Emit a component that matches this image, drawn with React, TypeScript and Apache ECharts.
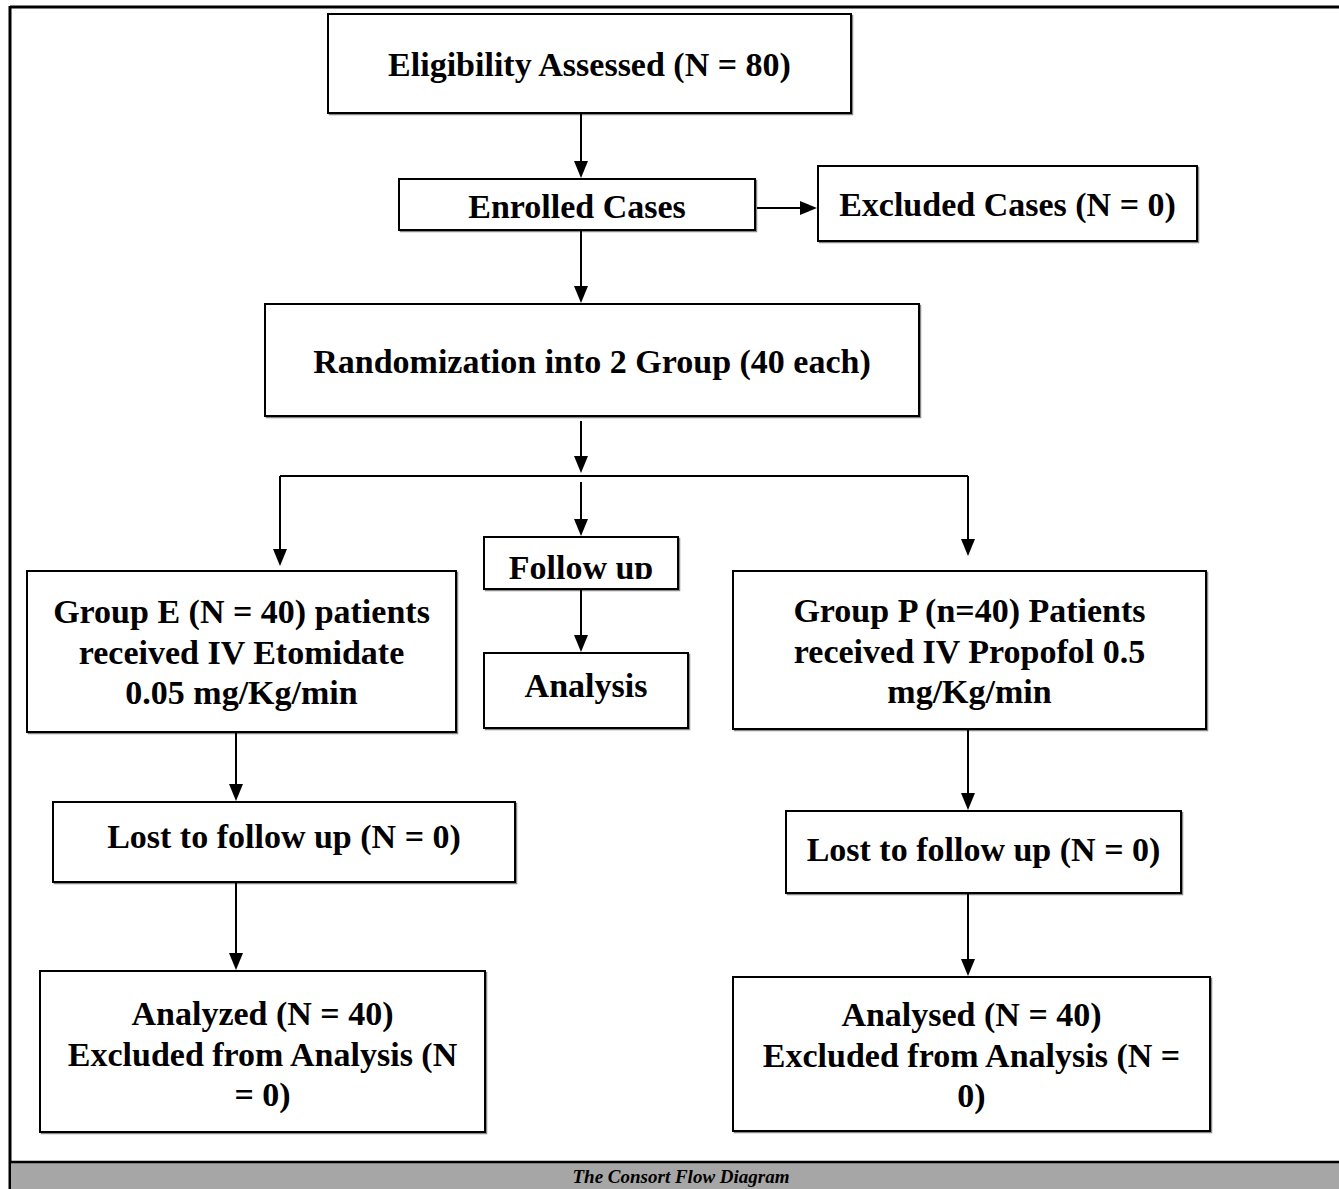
import React, { useEffect, useRef } from "react";
import * as echarts from "echarts";

// ---- content (data) ----
const boxIds = [
  "elig", "enrolled", "excluded", "random", "follow", "analysis",
  "groupE", "lostE", "analyzedE", "groupP", "lostP", "analysedP",
];
const boxTexts = [
  "Eligibility Assessed (N = 80)",
  "Enrolled Cases",
  "Excluded Cases (N = 0)",
  "Randomization into 2 Group (40 each)",
  "Follow up",
  "Analysis",
  "Group E (N = 40) patients\nreceived IV Etomidate\n0.05 mg/Kg/min",
  "Lost to follow up (N = 0)",
  "Analyzed (N = 40)\nExcluded from Analysis (N\n= 0)",
  "Group P (n=40) Patients\nreceived IV Propofol 0.5\nmg/Kg/min",
  "Lost to follow up (N = 0)",
  "Analysed (N = 40)\nExcluded from Analysis (N =\n0)",
];
const captionText = "The Consort Flow Diagram";

// ---- layout (positions / sizes) ----
// [x, y, w, h, textCenterY]
const boxLayout: Record<string, number[]> = {
  elig: [328, 14, 523, 99, 64],
  enrolled: [399, 179, 356, 51, 206],
  excluded: [818, 166, 379, 75, 204],
  random: [265, 304, 654, 112, 361],
  follow: [484, 537, 194, 52, 567],
  analysis: [484, 653, 204, 75, 685],
  groupE: [27, 571, 429, 161, 652],
  lostE: [53, 802, 462, 80, 836],
  analyzedE: [40, 971, 445, 161, 1054],
  groupP: [733, 571, 473, 158, 651],
  lostP: [786, 811, 395, 82, 849],
  analysedP: [733, 977, 477, 154, 1055],
};
// arrows: [x1, y1, x2, y2] (tip at x2,y2)
const arrows = [
  [581, 113, 581, 178],
  [757, 208, 817, 208],
  [581, 230, 581, 303],
  [581, 421, 581, 473],
  [280, 476, 280, 566],
  [581, 482, 581, 536],
  [968, 476, 968, 556],
  [581, 589, 581, 652],
  [236, 732, 236, 801],
  [236, 882, 236, 970],
  [968, 729, 968, 810],
  [968, 893, 968, 976],
];
const plainLines = [[280, 476, 968, 476]];

const FONT = 'bold 34px "Liberation Serif", "DejaVu Serif", serif';

function arrowEls(a: number[]) {
  const [x1, y1, x2, y2] = a;
  const dx = x2 - x1, dy = y2 - y1;
  const len = Math.sqrt(dx * dx + dy * dy);
  const ux = dx / len, uy = dy / len;
  const hl = 17, hw = 7;
  const bx = x2 - ux * hl, by = y2 - uy * hl;
  const px = -uy, py = ux;
  return [
    { type: "line", shape: { x1, y1, x2: bx, y2: by }, style: { stroke: "#000", lineWidth: 2 } },
    {
      type: "polygon",
      shape: { points: [[x2, y2], [bx + px * hw, by + py * hw], [bx - px * hw, by - py * hw]] },
      style: { fill: "#000" },
    },
  ];
}

export default function App() {
  const ref = useRef<HTMLDivElement>(null);
  useEffect(() => {
    if (!ref.current) return;
    const chart = echarts.init(ref.current, undefined, { renderer: "svg" });
    const els: any[] = [];
    // outer frame
    els.push({ type: "rect", shape: { x: 0, y: 0, width: 1339, height: 1189 }, style: { fill: "#fff" } });
    els.push({ type: "line", shape: { x1: 10, y1: 7, x2: 1339, y2: 7 }, style: { stroke: "#000", lineWidth: 3 } });
    els.push({ type: "line", shape: { x1: 10, y1: 6, x2: 10, y2: 1189 }, style: { stroke: "#000", lineWidth: 3 } });
    // caption bar
    els.push({ type: "rect", shape: { x: 11, y: 1163, width: 1328, height: 26 }, style: { fill: "#a6a6a6" } });
    els.push({ type: "line", shape: { x1: 10, y1: 1162, x2: 1339, y2: 1162 }, style: { stroke: "#000", lineWidth: 2.5 } });
    els.push({
      type: "text",
      x: 681, y: 1176,
      style: {
        text: captionText, align: "center", verticalAlign: "middle",
        font: 'italic bold 19px "Liberation Serif", serif', fill: "#000",
      },
    });
    // boxes
    boxIds.forEach((id, i) => {
      const [x, y, w, h, ty] = boxLayout[id];
      els.push({
        type: "rect",
        shape: { x: x + 1.5, y: y + 1.5, width: w, height: h },
        style: { fill: "none", stroke: "#888", lineWidth: 1.5 },
      });
      els.push({
        type: "rect",
        shape: { x, y, width: w, height: h },
        style: { fill: "#fff", stroke: "#000", lineWidth: 2 },
      });
      els.push({
        type: "text",
        x: x + w / 2, y: ty,
        style: {
          text: boxTexts[i], align: "center", verticalAlign: "middle",
          font: FONT, fill: "#000", lineHeight: 40.5,
        },
      });
      if (id === "follow") {
        // text clipped at bottom as in the original
        els.push({ type: "rect", shape: { x: x + 2, y: 579, width: w - 4, height: y + h - 580 }, style: { fill: "#fff" } });
      }
    });
    plainLines.forEach(([x1, y1, x2, y2]) =>
      els.push({ type: "line", shape: { x1, y1, x2, y2 }, style: { stroke: "#000", lineWidth: 2 } })
    );
    arrows.forEach((a) => els.push(...arrowEls(a)));

    chart.setOption({ animation: false, graphic: { elements: els } });
    return () => chart.dispose();
  }, []);
  return (
    <div
      ref={ref}
      style={{ position: "absolute", left: 0, top: 0, width: 1339, height: 1189, background: "#fff" }}
    />
  );
}
